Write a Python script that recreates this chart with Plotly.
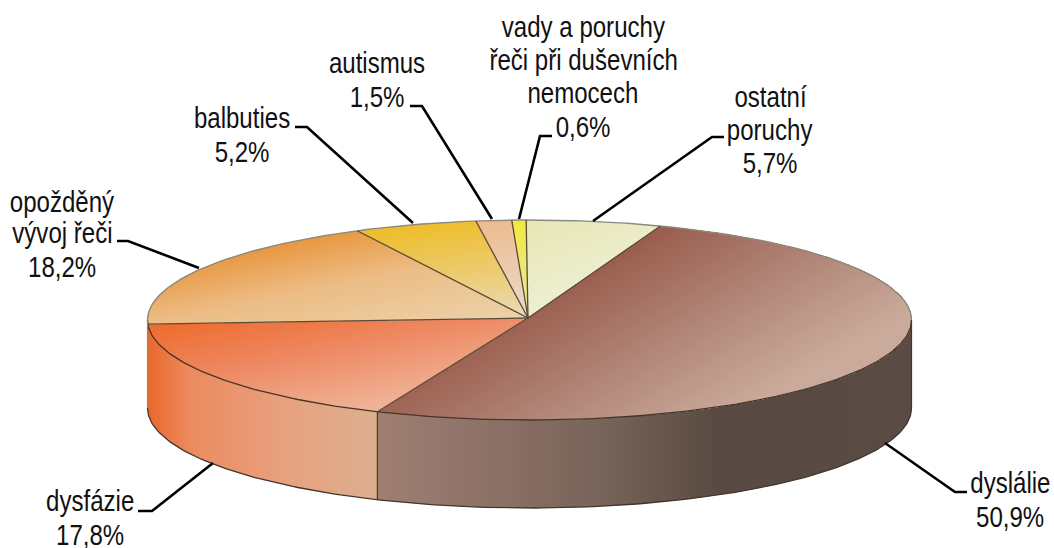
import math
import plotly.graph_objects as go

# ---------- data (clockwise from the top of the pie) ----------
categories = ["ostatní poruchy", "dyslálie", "dysfázie", "opožděný vývoj řeči",
              "balbuties", "autismus", "vady a poruchy řeči při duševních nemocech"]
values = [5.7, 50.9, 17.8, 18.2, 5.2, 1.5, 0.6]
value_labels = ["5,7%", "50,9%", "17,8%", "18,2%", "5,2%", "1,5%", "0,6%"]
label_lines = [["ostatní", "poruchy"], ["dyslálie"], ["dysfázie"],
               ["opožděný", "vývoj řeči"], ["balbuties"], ["autismus"],
               ["vady a poruchy", "řeči při duševních", "nemocech"]]

# ---------- layout / geometry constants ----------
W, H = 1054, 548
CX, CY, RX, RY, DEPTH = 529.5, 320.0, 382.0, 100.0, 88.0
APEX = (528.0, 318.0)
START = math.radians(-0.5)
FONT = "Liberation Sans"
FONT_SIZE = 29
NARROW = 0.83

# top-face gradient: direction and (t, colour) stops, t measured in px along direction from origin
top_styles = [
    dict(o=(528, 219), d=(0.35, 0.94), stops=[(0, "#e8e6b4"), (100, "#eef0d6")]),
    dict(o=(660, 226), d=(0.50, 0.87), stops=[(0, "#9a5c4c"), (100, "#b08476"), (200, "#caaa9a")]),
    dict(o=(147, 323), d=(0.20, 0.98), stops=[(0, "#ee6a2a"), (60, "#ee8760"), (125, "#efb296")]),
    dict(o=(147, 322), d=(0.20, 0.98), stops=[(-50, "#e8983f"), (0, "#ecbc84"), (71, "#ecd2aa")]),
    dict(o=(475, 221), d=(0.15, 0.99), stops=[(0, "#edbf30"), (50, "#eccb70"), (100, "#e8dab4")]),
    dict(o=(490, 219), d=(0.10, 0.99), stops=[(0, "#eeba90"), (100, "#e8dccc")]),
    dict(o=(520, 219), d=(0.00, 1.00), stops=[(0, "#f2ea3a"), (100, "#e8e8a8")]),
]
side_stops = {
    1: [(378, "#a07e72"), (480, "#8e7268"), (600, "#78645a"), (720, "#584a42"), (912, "#5a4c44")],
    2: [(147, "#e8682a"), (190, "#ec8a5e"), (280, "#e8a07e"), (378, "#dcb090")],
}
EDGE_FRONT = "#46362a"
EDGE_BACK = "#8c8a80"
EDGE_RADIAL = "#5a4a38"

# leader polylines and label anchors (pixels in the 1054x548 frame)
leaders = [
    [(593, 221), (712, 137), (724, 137)],
    [(885, 443), (955, 492), (967, 492)],
    [(213, 463), (152, 511), (138, 511)],
    [(199, 268), (128, 241), (117, 241)],
    [(413, 223), (307, 127), (295, 127)],
    [(492, 219), (422, 106), (410, 106)],
    [(519, 219), (540, 136), (552, 136)],
]
label_pos = [
    (770, [97, 130, 163]),
    (1010, [483, 517]),
    (90, [501, 535]),
    (62, [202, 233, 267]),
    (242, [118, 152]),
    (377, [63, 97]),
    (583, [27, 60, 93, 127]),
]


# ---------- helpers ----------
def hex2rgb(h):
    return tuple(int(h[i:i + 2], 16) for i in (1, 3, 5))


def colour_at(stops, t):
    if t <= stops[0][0]:
        return stops[0][1]
    for (a, ca), (b, cb) in zip(stops, stops[1:]):
        if t <= b:
            f = (t - a) / (b - a)
            ra, rb = hex2rgb(ca), hex2rgb(cb)
            return "rgb(%d,%d,%d)" % tuple(round(x + (y - x) * f) for x, y in zip(ra, rb))
    return stops[-1][1]


def arc(a0, a1, dy=0.0):
    n = max(4, int(abs(a1 - a0) * 60))
    return [(CX + RX * math.sin(a0 + (a1 - a0) * i / n),
             CY + dy - RY * math.cos(a0 + (a1 - a0) * i / n)) for i in range(n + 1)]


def clip(poly, o, d, t0):
    def val(p):
        return (p[0] - o[0]) * d[0] + (p[1] - o[1]) * d[1] - t0
    out = []
    for i, p in enumerate(poly):
        q = poly[(i + 1) % len(poly)]
        vp, vq = val(p), val(q)
        if vp >= 0:
            out.append(p)
        if vp * vq < 0:
            f = vp / (vp - vq)
            out.append((p[0] + (q[0] - p[0]) * f, p[1] + (q[1] - p[1]) * f))
    return out


def line(pts, color, width):
    return go.Scatter(x=[p[0] for p in pts], y=[p[1] for p in pts], mode="lines",
                      line=dict(color=color, width=width), hoverinfo="skip", showlegend=False)


# ---------- slices ----------
total = sum(values)
angles = [START]
for v in values:
    angles.append(angles[-1] + v / total * 2 * math.pi)
angles[-1] = START + 2 * math.pi

fig = go.Figure()

# side walls (only the front-facing slices)
for idx, stops in side_stops.items():
    a0 = max(angles[idx], math.pi / 2)
    a1 = min(angles[idx + 1], 3 * math.pi / 2)
    pts = arc(a0, a1) + arc(a1, a0, DEPTH)
    pts.append(pts[0])
    lo, hi = stops[0][0], stops[-1][0]
    fig.add_trace(go.Scatter(
        x=[p[0] for p in pts], y=[p[1] for p in pts], mode="none", fill="toself",
        fillgradient=dict(type="horizontal", start=lo, stop=hi,
                          colorscale=[[(s - lo) / (hi - lo), c] for s, c in stops]),
        hoverinfo="skip", showlegend=False))

# top faces: a stack of ever-smaller clipped polygons draws the diagonal gradient
for i, st in enumerate(top_styles):
    poly = [APEX] + arc(angles[i], angles[i + 1])
    ts = [(p[0] - st["o"][0]) * st["d"][0] + (p[1] - st["o"][1]) * st["d"][1] for p in poly]
    tmin, tmax = min(ts), max(ts)
    n = max(6, int((tmax - tmin) / 3))
    for k in range(n):
        t0 = tmin + (tmax - tmin) * k / n
        part = clip(poly, st["o"], st["d"], t0 - 0.01) if k else poly
        if len(part) < 3:
            continue
        part = part + [part[0]]
        col = colour_at(st["stops"], t0 + (tmax - tmin) / (2 * n))
        fig.add_trace(go.Scatter(x=[p[0] for p in part], y=[p[1] for p in part],
                                 mode="none", fill="toself", fillcolor=col,
                                 hoverinfo="skip", showlegend=False))

# outlines
fig.add_trace(line(arc(-math.pi / 2, math.pi / 2), EDGE_BACK, 1.4))
fig.add_trace(line(arc(math.pi / 2, 3 * math.pi / 2), EDGE_FRONT, 1.3))
fig.add_trace(line(arc(math.pi / 2, 3 * math.pi / 2, DEPTH), EDGE_FRONT, 1.3))
for a, col in ((math.pi / 2, EDGE_FRONT), (3 * math.pi / 2, EDGE_BACK)):
    fig.add_trace(line(arc(a, a)[:1] + arc(a, a, DEPTH)[:1], col, 1.2))
fig.add_trace(line(arc(angles[2], angles[2])[:1] + arc(angles[2], angles[2], DEPTH)[:1], EDGE_FRONT, 1.2))
for a in angles[:-1]:
    fig.add_trace(line([APEX] + arc(a, a)[:1], EDGE_RADIAL, 1.3))

# leader lines
for pts in leaders:
    fig.add_trace(line(pts, "#000000", 2.6))

# labels
annotations = []
for lines, val, (x, ys) in zip(label_lines, value_labels, label_pos):
    for text, y in zip(lines + [val], ys):
        annotations.append(dict(x=x, y=y, text=text, showarrow=False, xanchor="center",
                                yanchor="middle", font=dict(family=FONT, size=FONT_SIZE, color="#111111")))

fig.update_layout(
    width=W, height=H, margin=dict(l=0, r=0, t=0, b=0), showlegend=False,
    paper_bgcolor="white", plot_bgcolor="white", annotations=annotations,
    xaxis=dict(range=[0, W], visible=False, fixedrange=True),
    yaxis=dict(range=[H, 0], visible=False, fixedrange=True),
)
post = """
document.body.style.margin = '0';
document.querySelectorAll('text.annotation-text').forEach(function (t) {
  t.style.transformBox = 'fill-box';
  t.style.transformOrigin = 'center';
  t.style.transform = 'scaleX(%s)';
});
""" % NARROW
fig.write_html("out.html", config=dict(displayModeBar=False), post_script=post)
